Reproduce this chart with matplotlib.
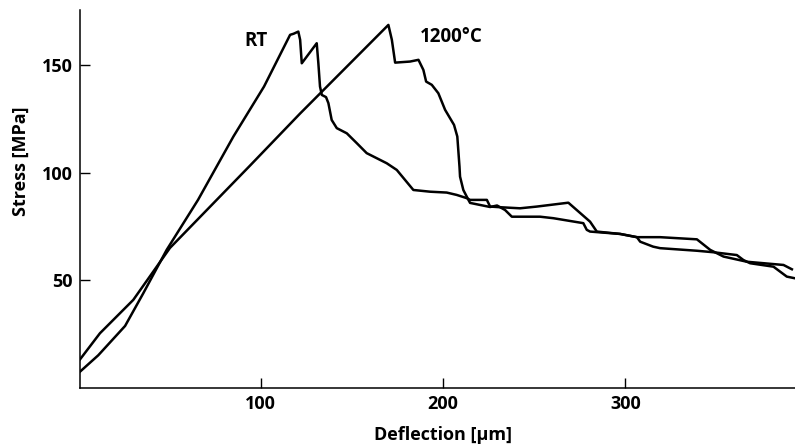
import matplotlib
matplotlib.use("Agg")
import matplotlib.pyplot as plt

# Stress-deflection curves
rt_x = [0.9, 10.9, 25.6, 35.6, 48.4, 65.6, 85.0, 101.8, 116.1, 118.0, 120.6, 121.6, 122.5,
        130.7, 131.6, 132.5, 133.5, 135.8, 137.1, 138.9, 141.7, 147.2, 152.7, 158.1, 169.1,
        174.6, 183.7, 192.9, 202.0, 207.5, 213.0, 214.8, 224.0, 225.8, 231.3, 242.2, 251.4,
        268.7, 280.6, 284.3, 297.1, 306.3, 319.0, 339.2, 346.5, 353.8, 366.6, 386.7, 391.3]
rt_y = [7.6, 15.2, 28.8, 44.0, 64.1, 87.3, 116.7, 139.9, 163.9, 164.4, 165.4, 161.6, 150.7,
        160.0, 150.7, 139.9, 136.0, 135.0, 132.2, 124.4, 120.6, 118.2, 113.6, 109.0, 104.3,
        101.2, 91.9, 91.1, 90.7, 89.6, 88.1, 87.3, 87.3, 84.2, 83.9, 83.4, 84.2,
        86.0, 77.2, 72.6, 71.5, 70.0, 70.0, 69.0, 64.1, 61.0, 58.6, 57.1, 55.1]

hot_x = [0.9, 11.8, 30.1, 50.2, 94.1, 121.6, 170.0, 171.9, 173.7, 181.9,
         186.5, 189.2, 190.7, 193.8, 197.4, 201.1, 206.0, 207.8, 209.0, 209.3, 211.1,
         213.9, 214.8, 225.8, 229.6, 234.0, 237.7, 253.2, 260.5, 276.9, 278.8, 280.6,
         297.1, 306.3, 308.1, 315.2, 319.0, 339.2, 348.3, 361.1, 364.7, 368.4, 381.2,
         388.5, 393.1]
hot_y = [13.3, 25.4, 40.9, 65.0, 103.2, 127.4, 168.5, 161.6, 151.0, 151.5,
         152.3, 147.6, 142.2, 140.7, 136.8, 129.1, 122.1, 116.7, 102.7, 98.1, 91.9,
         87.3, 85.9, 84.0, 84.7, 82.6, 79.5, 79.5, 78.8, 76.5, 73.4, 72.6,
         71.5, 70.0, 67.9, 65.6, 64.9, 63.7, 63.0, 61.7, 59.4, 57.9, 56.3,
         51.7, 50.9]

x_ticks = [100, 200, 300]
y_ticks = [50, 100, 150]

font = ["Open Sans", "DejaVu Sans"]
plt.rcParams["font.family"] = font

fig = plt.figure(figsize=(7.95, 4.47), dpi=100)
ax = fig.add_axes([0.1, 0.131, 0.9, 0.847])

ax.plot(rt_x, rt_y, color="black", lw=1.8, solid_joinstyle="round")
ax.plot(hot_x, hot_y, color="black", lw=1.8, solid_joinstyle="round")

ax.text(97.4, 160.9, "RT", fontsize=13.5, fontweight="bold", ha="center", va="center")
ax.text(204.4, 162.7, "1200°C", fontsize=13.5, fontweight="bold", ha="center", va="center")

ax.set_xlim(0.6, 393)
ax.set_ylim(-0.2, 175.5)
ax.set_xticks(x_ticks)
ax.set_yticks(y_ticks)
ax.tick_params(direction="in", length=7, width=1, labelsize=13, pad=5)
for lab in ax.get_xticklabels() + ax.get_yticklabels():
    lab.set_fontweight("bold")

for side in ["top", "right"]:
    ax.spines[side].set_visible(False)
for side in ["left", "bottom"]:
    ax.spines[side].set_linewidth(1.1)

ax.set_xlabel("Deflection [µm]", fontsize=13, fontweight="bold")
ax.set_ylabel("Stress [MPa]", fontsize=13, fontweight="bold")
ax.xaxis.set_label_coords(0.508, -0.1)
ax.yaxis.set_label_coords(-0.07, 0.60)

fig.savefig("out.png", dpi=100)
